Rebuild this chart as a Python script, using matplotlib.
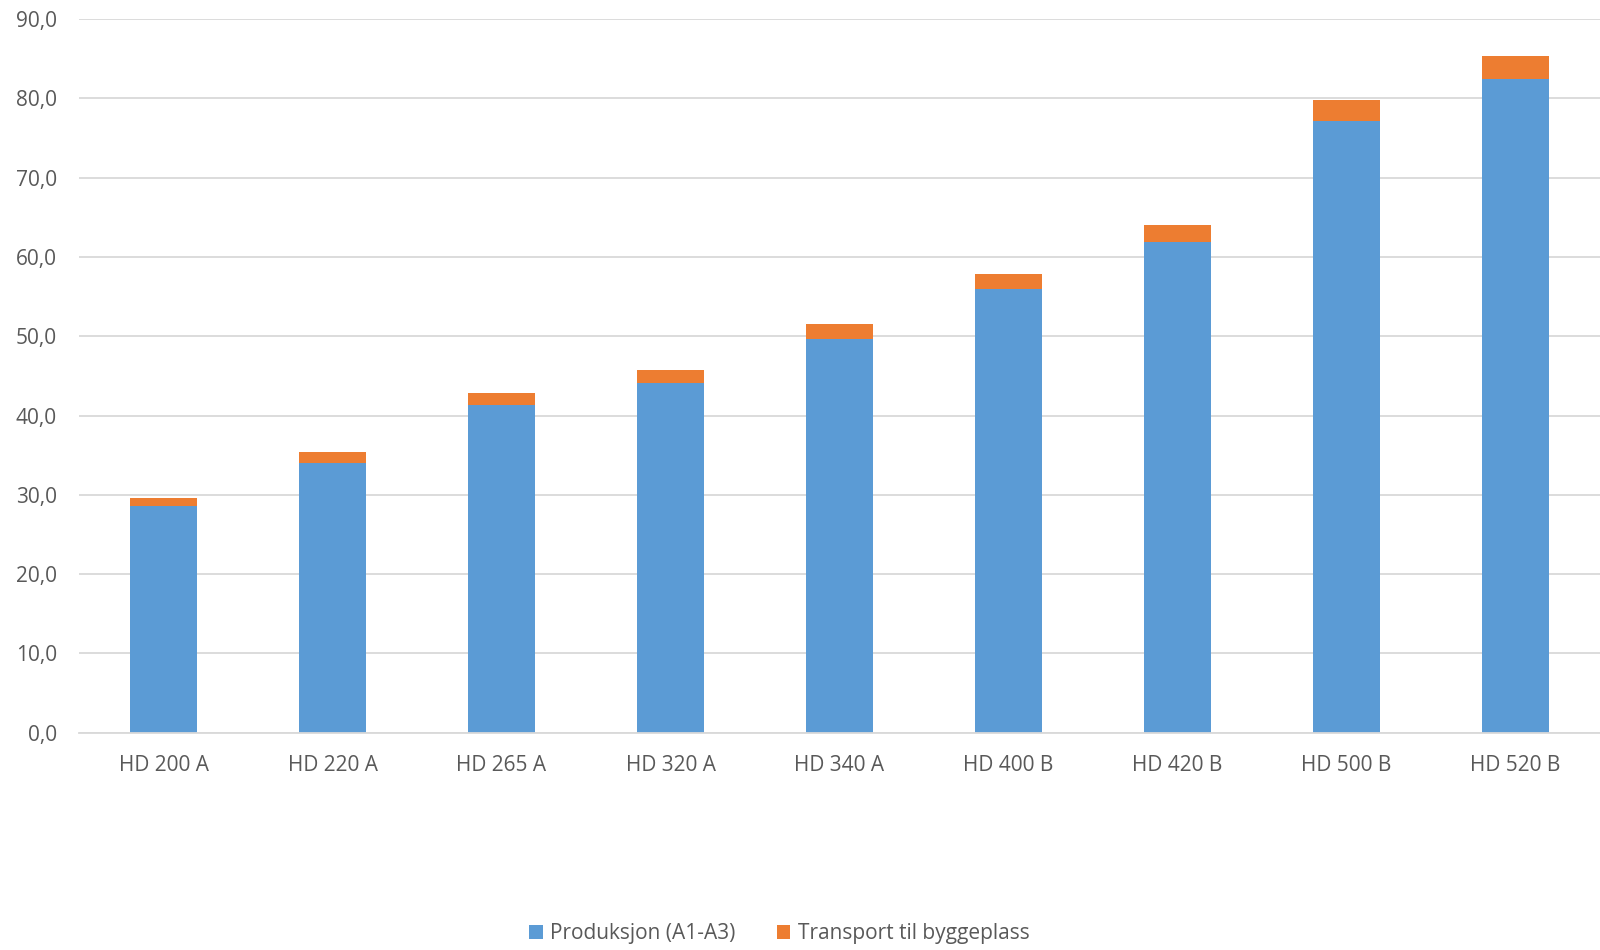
import matplotlib.pyplot as plt
import numpy as np

# data
categories = ["HD 200 A", "HD 220 A", "HD 265 A", "HD 320 A", "HD 340 A",
              "HD 400 B", "HD 420 B", "HD 500 B", "HD 520 B"]
produksjon = [28.55, 34.05, 41.3, 44.1, 49.6, 55.9, 61.9, 77.1, 82.4]
transport = [1.08, 1.35, 1.6, 1.7, 1.9, 1.9, 2.1, 2.65, 2.9]
y_ticks = [0, 10, 20, 30, 40, 50, 60, 70, 80, 90]

blue = "#5B9BD5"
orange = "#ED7D31"
grid_col = "#D9D9D9"
text_col = "#595959"

plt.rcParams['font.family'] = ['Open Sans', 'DejaVu Sans']

fig = plt.figure(figsize=(16, 9.5), dpi=100)
ax = fig.add_axes([0.0494, 0.2287, 0.9506, 0.7513])

x = np.arange(len(categories))
ax.bar(x, produksjon, width=0.4, color=blue, label="Produksjon (A1-A3)", zorder=3)
ax.bar(x, transport, width=0.4, bottom=produksjon, color=orange,
       label="Transport til byggeplass", zorder=3)

ax.set_xlim(-0.5, len(categories) - 0.5)
ax.set_ylim(0, 90)
ax.set_yticks(y_ticks)
ax.set_yticklabels([f"{v:.1f}".replace(".", ",") for v in y_ticks])
ax.set_xticks(x)
ax.set_xticklabels(categories)

ax.yaxis.grid(True, color=grid_col, linewidth=1.3, zorder=0)
for s in ["top", "right", "left"]:
    ax.spines[s].set_visible(False)
ax.spines["bottom"].set_color(grid_col)
ax.spines["bottom"].set_linewidth(1.3)
ax.spines["bottom"].set_zorder(4)
ax.tick_params(axis="both", length=0, labelsize=15, labelcolor=text_col)
ax.tick_params(axis="y", pad=16)
ax.tick_params(axis="x", pad=16)

fig.legend(loc="center", bbox_to_anchor=(0.487, 0.017), ncol=2, frameon=False,
           fontsize=15, labelcolor=text_col, handlelength=0.65, handleheight=0.65,
           handletextpad=0.35, columnspacing=2.0)

plt.savefig("out.png", dpi=100)
